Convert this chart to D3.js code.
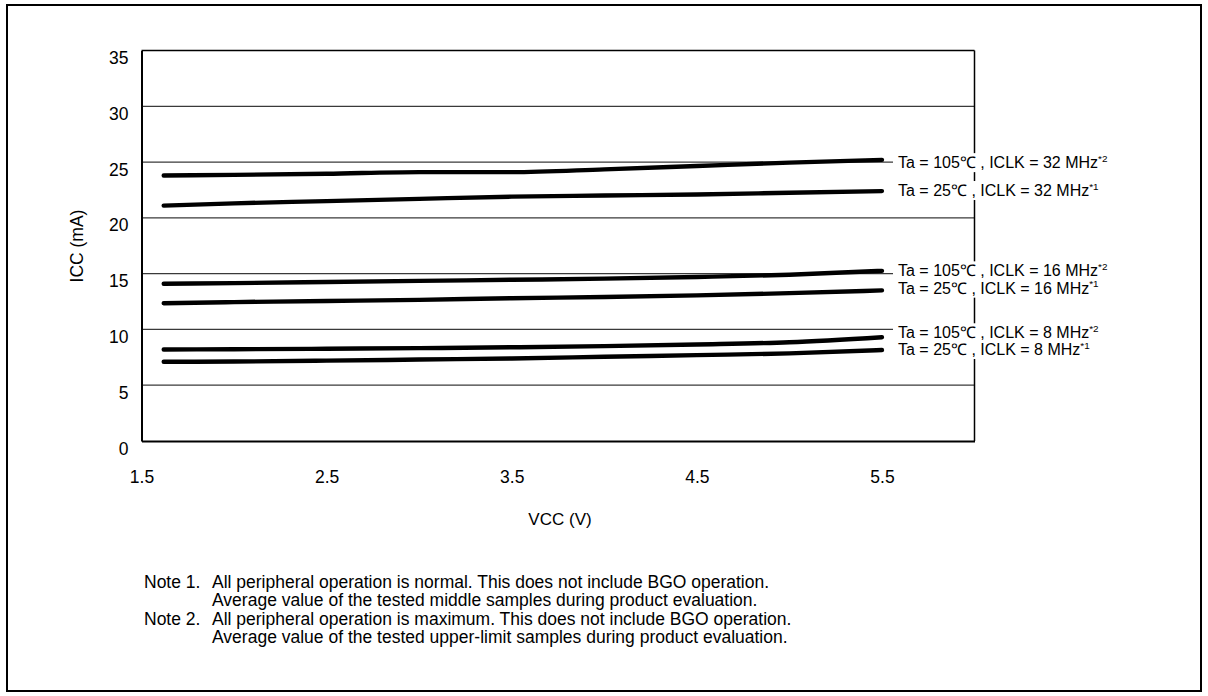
<!DOCTYPE html>
<html><head><meta charset="utf-8">
<script src="https://cdn.jsdelivr.net/npm/d3@7"></script>
<style>
html,body{margin:0;padding:0;background:#fff;}
text{font-family:"Liberation Sans",Arial,sans-serif;fill:#000;}
</style></head>
<body>
<svg id="chart" width="1208" height="696"></svg>
<script>
// ---- data ----
const vcc = [1.62, 2.0, 2.5, 3.0, 3.5, 4.0, 4.5, 5.0, 5.5];
const ta105_32 = [23.8, 23.85, 23.95, 24.1, 24.1, 24.35, 24.65, 24.95, 25.2];
const ta25_32  = [21.1, 21.3, 21.5, 21.7, 21.9, 22.0, 22.1, 22.25, 22.4];
const ta105_16 = [14.1, 14.15, 14.25, 14.35, 14.45, 14.55, 14.7, 14.9, 15.25];
const ta25_16  = [12.35, 12.45, 12.55, 12.65, 12.8, 12.9, 13.05, 13.25, 13.5];
const ta105_8  = [8.2, 8.22, 8.27, 8.32, 8.4, 8.5, 8.65, 8.85, 9.3];
const ta25_8   = [7.1, 7.12, 7.2, 7.3, 7.4, 7.55, 7.7, 7.85, 8.15];
const seriesLabels = [
  ["Ta = 105\u2103 , ICLK = 32 MHz", "*2"],
  ["Ta = 25\u2103 , ICLK = 32 MHz", "*1"],
  ["Ta = 105\u2103 , ICLK = 16 MHz", "*2"],
  ["Ta = 25\u2103 , ICLK = 16 MHz", "*1"],
  ["Ta = 105\u2103 , ICLK = 8 MHz", "*2"],
  ["Ta = 25\u2103 , ICLK = 8 MHz", "*1"]
];
const labelValues = [24.95, 22.45, 15.25, 13.7, 9.7, 8.2]; // label anchor (mA)
const xTicks = [1.5, 2.5, 3.5, 4.5, 5.5];
const yTicks = [0, 5, 10, 15, 20, 25, 30, 35];
const xTitle = "VCC (V)";
const yTitle = "ICC (mA)";
const notes = [
  ["Note 1.", "All peripheral operation is normal. This does not include BGO operation."],
  ["", "Average value of the tested middle samples during product evaluation."],
  ["Note 2.", "All peripheral operation is maximum. This does not include BGO operation."],
  ["", "Average value of the tested upper-limit samples during product evaluation."]
];

const allSeries = [ta105_32, ta25_32, ta105_16, ta25_16, ta105_8, ta25_8];

// ---- layout ----
const svg = d3.select("#chart");
const L = 141.5, R = 974.5, T = 50.5, B = 441;
const x = d3.scaleLinear().domain([1.5, 6.0]).range([L, R]);
const y = d3.scaleLinear().domain([0, 35]).range([B, T]);
const FS = 17.5;   // axis text
const LFS = 16;    // series label text
const NFS = 17.5;  // notes text

// outer frame
svg.append("rect").attr("x", 7).attr("y", 5).attr("width", 1194).attr("height", 686)
  .attr("fill", "none").attr("stroke", "#000").attr("stroke-width", 2);

// gridlines
svg.append("g").selectAll("line").data(yTicks.filter(d => d > 0 && d < 35)).join("line")
  .attr("x1", L).attr("x2", R).attr("y1", d => y(d)).attr("y2", d => y(d))
  .attr("stroke", "#3a3a3a").attr("stroke-width", 1.2);

// plot border
svg.append("line").attr("x1", L).attr("x2", R).attr("y1", T).attr("y2", T).attr("stroke", "#000").attr("stroke-width", 1.5);
svg.append("line").attr("x1", R).attr("x2", R).attr("y1", T).attr("y2", B).attr("stroke", "#000").attr("stroke-width", 1.5);

// axes via d3 axis (no tick marks)
const yAxis = svg.append("g").attr("transform", `translate(${L},0)`)
  .call(d3.axisLeft(y).tickValues(yTicks).tickSize(0).tickPadding(13).tickFormat(d3.format("d")));
yAxis.select(".domain").attr("stroke", "#000").attr("stroke-width", 2);
yAxis.selectAll("text").attr("font-size", FS).attr("font-family", "Liberation Sans, Arial, sans-serif").attr("dy", 13).attr("fill", "#000");

const xAxis = svg.append("g").attr("transform", `translate(0,${B})`)
  .call(d3.axisBottom(x).tickValues(xTicks).tickSize(0).tickPadding(30).tickFormat(d3.format(".1f")));
xAxis.select(".domain").attr("stroke", "#000").attr("stroke-width", 2);
xAxis.selectAll("text").attr("font-size", FS).attr("font-family", "Liberation Sans, Arial, sans-serif").attr("fill", "#000");

// axis titles
svg.append("text").attr("x", x(3.75) + 2).attr("y", 525).attr("text-anchor", "middle")
  .attr("font-size", FS - 0.5).text(xTitle);
svg.append("text").attr("transform", `translate(83,246) rotate(-90)`).attr("text-anchor", "middle")
  .attr("font-size", FS).text(yTitle);

// series lines
const line = d3.line().x((d, i) => x(vcc[i])).y(d => y(d)).curve(d3.curveMonotoneX);
svg.append("g").selectAll("path").data(allSeries).join("path")
  .attr("d", d => line(d)).attr("fill", "none").attr("stroke", "#000")
  .attr("stroke-width", 4.4).attr("stroke-linecap", "round").attr("stroke-linejoin", "round");

// series labels with white background (backgrounds first, then texts)
const bgG = svg.append("g");
const txG = svg.append("g");
seriesLabels.forEach((lab, i) => {
  const base = y(labelValues[i]) + 5.5;
  const t = txG.append("text").attr("x", 898).attr("y", base).attr("font-size", LFS);
  t.append("tspan").text(lab[0]);
  t.append("tspan").attr("font-size", LFS * 0.62).attr("dy", -6.5).text(lab[1]);
  const bb = t.node().getBBox();
  bgG.append("rect").attr("fill", "#fff")
    .attr("x", 893).attr("y", base - 15).attr("width", bb.x + bb.width - 893 + 3).attr("height", 19);
});

// notes
const ng = svg.append("g");
notes.forEach((n, i) => {
  const yy = 588 + i * 18.3;
  if (n[0]) ng.append("text").attr("x", 144).attr("y", yy).attr("font-size", NFS).text(n[0]);
  ng.append("text").attr("x", 212).attr("y", yy).attr("font-size", NFS).text(n[1]);
});
</script>
</body></html>
